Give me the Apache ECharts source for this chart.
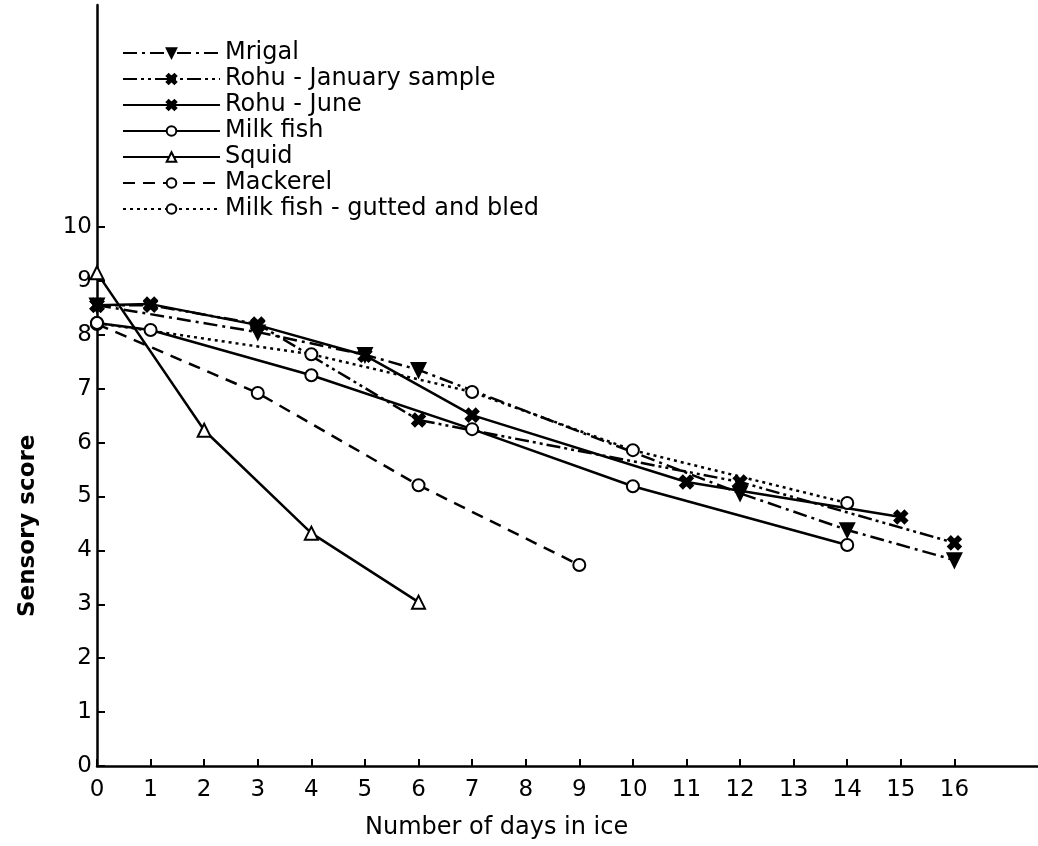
<!DOCTYPE html>
<html>
<head>
<meta charset="utf-8">
<script src="https://cdn.jsdelivr.net/npm/echarts@6/dist/echarts.min.js"></script>
<style>
  html, body { margin: 0; padding: 0; background: #fff; }
  #main { width: 1038px; height: 846px; }
</style>
</head>
<body>
<div id="main"></div>
<script>
// data: [day, sensory score]
var mrigal = [[0, 8.55], [3, 8.05], [5, 7.63], [6, 7.35], [12, 5.06], [14, 4.38], [16, 3.82]];
var rohuJan = [[0, 8.55], [1, 8.55], [3, 8.2], [6, 6.42], [12, 5.27], [16, 4.14]];
var rohuJune = [[0, 8.55], [1, 8.57], [3, 8.18], [5, 7.62], [7, 6.51], [11, 5.27], [15, 4.62]];
var milkFish = [[0, 8.22], [1, 8.09], [4, 7.25], [7, 6.25], [10, 5.19], [14, 4.1]];
var squid = [[0, 9.15], [2, 6.23], [4, 4.32], [6, 3.04]];
var mackerel = [[0, 8.2], [3, 6.92], [6, 5.21], [9, 3.73]];
var milkGutted = [[0, 8.22], [4, 7.64], [7, 6.94], [10, 5.86], [14, 4.88]];

var xTicks = [0, 1, 2, 3, 4, 5, 6, 7, 8, 9, 10, 11, 12, 13, 14, 15, 16];
var yTicks = [0, 1, 2, 3, 4, 5, 6, 7, 8, 9, 10];

var names = ['Mrigal', 'Rohu - January sample', 'Rohu - June', 'Milk fish', 'Squid', 'Mackerel', 'Milk fish - gutted and bled'];

var myChart = echarts.init(document.getElementById('main'));

// filled "x" mark
var cross = 'path://M0,2L2,0L5,3L8,0L10,2L7,5L10,8L8,10L5,7L2,10L0,8L3,5Z';
var font = 'DejaVu Sans';

function line(name, data, type, symbol, size, extra) {
	var s = {
		name: name,
		type: 'line',
		data: data,
		symbol: symbol,
		symbolSize: size,
		lineStyle: { color: '#000', width: 2.5, type: type },
		itemStyle: { color: '#000', borderColor: '#000', borderWidth: 2.5 },
		z: 3
	};
	if (extra) {
		for (var k in extra) s[k] = extra[k];
	}
	return s;
}

var option = {
	animation: false,
	backgroundColor: '#fff',
	textStyle: { fontFamily: font },
	grid: { left: 97, right: 0, top: 5, bottom: 80 },
	legend: {
		orient: 'vertical',
		left: 117,
		top: 36,
		itemWidth: 97,
		itemHeight: 12,
		itemGap: 2,
		data: names,
		textStyle: { fontFamily: font, fontSize: 24, color: '#000' },
		inactiveColor: '#000'
	},
	xAxis: {
		type: 'value',
		min: 0,
		max: 17.56,
		interval: 1,
		splitLine: { show: false },
		axisLine: { lineStyle: { color: '#000', width: 2.5 } },
		axisTick: { inside: true, length: 7, customValues: xTicks, lineStyle: { color: '#000', width: 2 } },
		axisLabel: { customValues: xTicks, margin: 13, color: '#000', fontSize: 23, fontFamily: font }
	},
	yAxis: {
		type: 'value',
		min: 0,
		max: 14.12,
		interval: 1,
		splitLine: { show: false },
		axisLine: { lineStyle: { color: '#000', width: 2.5 } },
		axisTick: { inside: true, length: 8, customValues: yTicks, lineStyle: { color: '#000', width: 2 } },
		axisLabel: { customValues: yTicks, margin: 5, color: '#000', fontSize: 23, fontFamily: font }
	},
	graphic: [
		{
			type: 'text',
			left: 365,
			top: 816,
			style: { text: 'Number of days in ice', fill: '#000', font: '24px "DejaVu Sans"' }
		},
		{
			type: 'text',
			x: 17,
			y: 617,
			rotation: Math.PI / 2,
			style: { text: 'Sensory score', fill: '#000', font: 'bold 23px "DejaVu Sans"' }
		}
	],
	series: [
		line(names[0], mrigal, [14, 5, 3, 5], 'triangle', 13, { symbolRotate: 180 }),
		line(names[1], rohuJan, [14, 4, 3, 4, 3, 4], cross, 12),
		line(names[2], rohuJune, 'solid', cross, 12),
		line(names[3], milkFish, 'solid', 'emptyCircle', 12),
		line(names[4], squid, 'solid', 'emptyTriangle', 13),
		line(names[5], mackerel, [12, 8], 'emptyCircle', 12),
		line(names[6], milkGutted, [3, 4], 'emptyCircle', 12)
	]
};

myChart.setOption(option);
</script>
</body>
</html>
